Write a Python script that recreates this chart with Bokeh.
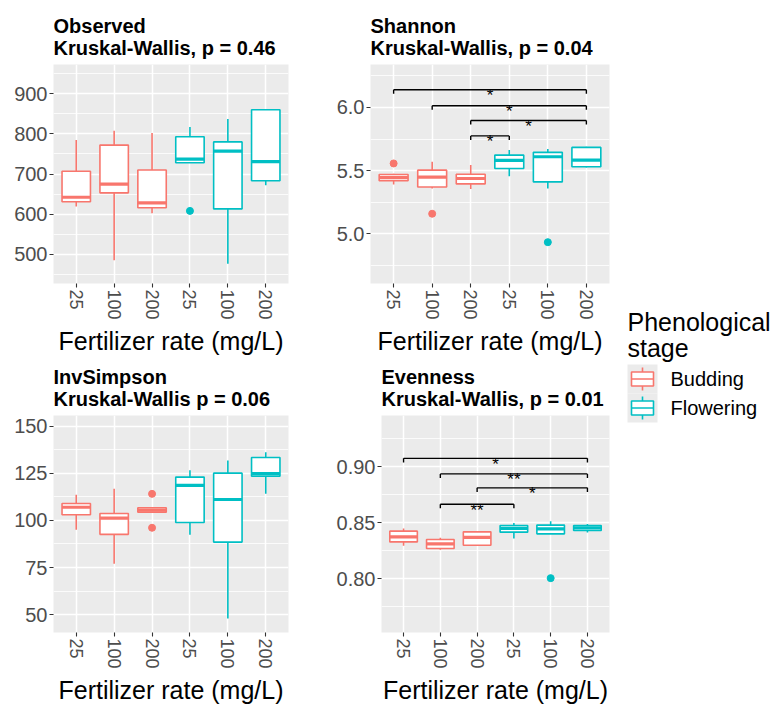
from bokeh.plotting import figure
from bokeh.layouts import row, column
from bokeh.models import Range1d, FixedTicker, NumeralTickFormatter
from bokeh.core.properties import value
from bokeh.embed import file_html
from bokeh.resources import INLINE

FONT = "Liberation Sans"
BUD = "#F8766D"
FLO = "#00BFC4"

# ---------------- data ----------------
x_labels = ["25", "100", "200", "25", "100", "200"]
stages = ["Budding", "Budding", "Budding", "Flowering", "Flowering", "Flowering"]
x_title = "Fertilizer rate (mg/L)"

obs_title = "Observed\nKruskal-Wallis, p = 0.46"
obs_lower = [619, 485, 602, 728, 476, 672]
obs_q1 = [631, 653, 616, 728, 613, 683]
obs_med = [642, 675, 628, 737, 757, 731]
obs_q3 = [707, 772, 710, 793, 780, 860]
obs_upper = [785, 808, 802, 817, 837, 860]
obs_out_idx = [3]
obs_out_val = [608]
obs_ticks = [500, 600, 700, 800, 900]
obs_minor = [450, 550, 650, 750, 850, 950]

sha_title = "Shannon\nKruskal-Wallis, p = 0.04"
sha_lower = [5.39, 5.358, 5.355, 5.456, 5.358, 5.525]
sha_q1 = [5.42, 5.371, 5.395, 5.517, 5.411, 5.531]
sha_med = [5.445, 5.448, 5.438, 5.581, 5.61, 5.584]
sha_q3 = [5.47, 5.504, 5.472, 5.623, 5.645, 5.684]
sha_upper = [5.476, 5.57, 5.544, 5.663, 5.671, 5.69]
sha_out_idx = [0, 1, 4]
sha_out_val = [5.557, 5.159, 4.934]
sha_ticks = [5.0, 5.5, 6.0]
sha_minor = [4.75, 5.25, 5.75, 6.25]
sha_br_from = [1, 2, 3, 3]
sha_br_to = [6, 6, 6, 4]
sha_br_y = [6.14, 6.013, 5.897, 5.775]
sha_br_lab = ["*", "*", "*", "*"]

inv_title = "InvSimpson\nKruskal-Wallis p = 0.06"
inv_lower = [95, 77, 104.4, 92.4, 47.9, 114.1]
inv_q1 = [103, 92.6, 104.4, 98.9, 88.5, 123.5]
inv_med = [107, 101.2, 105.5, 118.6, 111.1, 124.9]
inv_q3 = [109, 103.7, 106.7, 123, 125.1, 133.4]
inv_upper = [113.6, 116.8, 106.7, 126.7, 131.8, 136.2]
inv_out_idx = [2, 2]
inv_out_val = [114.1, 96.1]
inv_ticks = [50, 75, 100, 125, 150]
inv_minor = [62.5, 87.5, 112.5, 137.5]

eve_title = "Evenness\nKruskal-Wallis, p = 0.01"
eve_lower = [0.8295, 0.8259, 0.830, 0.836, 0.840, 0.8414]
eve_q1 = [0.833, 0.8271, 0.830, 0.8417, 0.8402, 0.8432]
eve_med = [0.8375, 0.8313, 0.837, 0.845, 0.8446, 0.8455]
eve_q3 = [0.8426, 0.8351, 0.842, 0.8476, 0.848, 0.8476]
eve_upper = [0.845, 0.8366, 0.8426, 0.850, 0.8515, 0.849]
eve_out_idx = [4]
eve_out_val = [0.8006]
eve_ticks = [0.80, 0.85, 0.90]
eve_minor = [0.775, 0.825, 0.875, 0.925]
eve_br_from = [1, 2, 3, 2]
eve_br_to = [6, 6, 6, 4]
eve_br_y = [0.9077, 0.8938, 0.8813, 0.8667]
eve_br_lab = ["*", "**", "*", "**"]

legend_title = ["Phenological", "stage"]
legend_labels = ["Budding", "Flowering"]
legend_colors = [BUD, FLO]

stage_color = {"Budding": BUD, "Flowering": FLO}


def make_panel(title, lower, q1, med, q3, upper, out_idx, out_val, yr, ticks, minor, fmt,
               fw, fh, bl, br, bt, bb, brackets=None, tip=0.0):
    p = figure(frame_width=fw, frame_height=fh, x_range=Range1d(0.4, 6.6), y_range=Range1d(*yr),
               output_backend="svg", toolbar_location=None,
               min_border_left=bl, min_border_right=br, min_border_top=bt, min_border_bottom=bb)
    p.background_fill_color = "#EBEBEB"
    p.border_fill_color = "white"
    p.outline_line_color = None

    p.title.text = title
    p.title.text_font = FONT
    p.title.text_font_size = "20px"
    p.title.text_font_style = "bold"
    p.title.text_color = "black"
    p.title.align = "left"
    p.title.offset = 0
    p.title.standoff = 12

    xs = list(range(1, len(x_labels) + 1))
    p.xaxis.ticker = FixedTicker(ticks=xs)
    p.xaxis.major_label_overrides = {x: lab for x, lab in zip(xs, x_labels)}
    p.xaxis.major_label_orientation = "vertical"
    p.xaxis.axis_label = x_title
    p.yaxis.ticker = FixedTicker(ticks=ticks, minor_ticks=minor)
    p.yaxis.formatter = NumeralTickFormatter(format=fmt)
    for ax in (p.xaxis, p.yaxis):
        ax.axis_line_color = None
        ax.major_tick_in = 0
        ax.major_tick_out = 4
        ax.major_tick_line_color = "#333333"
        ax.major_tick_line_width = 1.1
        ax.minor_tick_line_color = None
        ax.major_label_text_font = FONT
        ax.major_label_text_color = "#4D4D4D"
        ax.major_label_standoff = 2
        ax.axis_label_text_font = FONT
        ax.axis_label_text_font_size = "25px"
        ax.axis_label_text_font_style = "normal"
        ax.axis_label_text_color = "black"
        ax.axis_label_standoff = 4
    p.xaxis.major_label_text_font_size = "18px"
    p.yaxis.major_label_text_font_size = "20px"
    p.xgrid.grid_line_color = "white"
    p.xgrid.grid_line_width = 1.5
    p.ygrid.grid_line_color = "white"
    p.ygrid.grid_line_width = 1.5
    p.ygrid.minor_grid_line_color = "white"
    p.ygrid.minor_grid_line_width = 0.8

    cols = [stage_color[s] for s in stages]
    hw = 0.375
    p.segment(x0=xs, y0=q3, x1=xs, y1=upper, line_color=cols, line_width=1.6)
    p.segment(x0=xs, y0=lower, x1=xs, y1=q1, line_color=cols, line_width=1.6)
    p.quad(left=[x - hw for x in xs], right=[x + hw for x in xs], bottom=q1, top=q3,
           fill_color="white", line_color=cols, line_width=1.6)
    p.segment(x0=[x - hw for x in xs], y0=med, x1=[x + hw for x in xs], y1=med,
              line_color=cols, line_width=3.2)
    p.scatter(x=[xs[i] for i in out_idx], y=out_val, size=7,
              fill_color=[cols[i] for i in out_idx], line_color=[cols[i] for i in out_idx])

    if brackets:
        bf, bt_, by, blab = brackets
        p.segment(x0=bf, y0=by, x1=bt_, y1=by, line_color="black", line_width=1.4)
        p.segment(x0=bf, y0=by, x1=bf, y1=[y - tip for y in by], line_color="black", line_width=1.4)
        p.segment(x0=bt_, y0=by, x1=bt_, y1=[y - tip for y in by], line_color="black", line_width=1.4)
        p.text(x=[(a + b) / 2 for a, b in zip(bf, bt_)], y=by, text=blab,
               text_font=value(FONT), text_font_size=value("17px"), text_color="black",
               text_align="center", text_baseline="alphabetic", y_offset=6)
    return p


p1 = make_panel(obs_title, obs_lower, obs_q1, obs_med, obs_q3, obs_upper, obs_out_idx, obs_out_val,
                (427, 973), obs_ticks, obs_minor, "0", 235, 219, 53, 22, 64, 71)
p2 = make_panel(sha_title, sha_lower, sha_q1, sha_med, sha_q3, sha_upper, sha_out_idx, sha_out_val,
                (4.607, 6.34), sha_ticks, sha_minor, "0.0", 239, 219, 60, 6, 64, 71,
                brackets=(sha_br_from, sha_br_to, sha_br_y, sha_br_lab), tip=0.032)
p3 = make_panel(inv_title, inv_lower, inv_q1, inv_med, inv_q3, inv_upper, inv_out_idx, inv_out_val,
                (40.5, 155.7), inv_ticks, inv_minor, "0", 235, 217, 53, 22, 57, 71)
p4 = make_panel(eve_title, eve_lower, eve_q1, eve_med, eve_q3, eve_upper, eve_out_idx, eve_out_val,
                (0.752, 0.946), eve_ticks, eve_minor, "0.00", 228, 217, 71, 6, 57, 71,
                brackets=(eve_br_from, eve_br_to, eve_br_y, eve_br_lab), tip=0.0037)

# ---------------- legend panel ----------------
LEG_W, LEG_H = 158, 700
leg = figure(width=LEG_W, height=LEG_H, x_range=Range1d(0, LEG_W), y_range=Range1d(LEG_H, 0),
             x_axis_type=None, y_axis_type=None, output_backend="svg", toolbar_location=None,
             min_border_left=0, min_border_right=0, min_border_top=0, min_border_bottom=0)
leg.grid.visible = False
leg.outline_line_color = None
leg.background_fill_color = "white"
leg.border_fill_color = "white"

key_x0, key_x1 = 12, 42
key_top, key_h = 364, 29
title_base, title_lh = 321, 26
leg.text(x=[key_x0] * len(legend_title), y=[title_base + i * title_lh for i in range(len(legend_title))],
         text=legend_title, text_font=value(FONT), text_font_size=value("25px"),
         text_color="black", text_baseline="alphabetic", text_align="left")
n = len(legend_labels)
cy = [key_top + (i + 0.5) * key_h for i in range(n)]
leg.quad(left=[key_x0] * n, right=[key_x1] * n, top=[key_top + i * key_h for i in range(n)],
         bottom=[key_top + (i + 1) * key_h for i in range(n)], fill_color="#EBEBEB", line_color=None)
kx = (key_x0 + key_x1) / 2
leg.segment(x0=[kx] * n, y0=[c - 11.5 for c in cy], x1=[kx] * n, y1=[c + 11.5 for c in cy],
            line_color=legend_colors, line_width=1.6)
leg.quad(left=[kx - 11] * n, right=[kx + 11] * n, top=[c - 7 for c in cy], bottom=[c + 7 for c in cy],
         fill_color="white", line_color=legend_colors, line_width=1.6)
leg.segment(x0=[kx - 11] * n, y0=cy, x1=[kx + 11] * n, y1=cy, line_color=legend_colors, line_width=1.6)
leg.text(x=[key_x1 + 13] * n, y=cy, text=legend_labels, text_font=value(FONT),
         text_font_size=value("20px"), text_color="black", text_baseline="middle", text_align="left")

layout = row(column(row(p1, p2), row(p3, p4)), leg)

open("out.html", "w").write(file_html(layout, INLINE))
